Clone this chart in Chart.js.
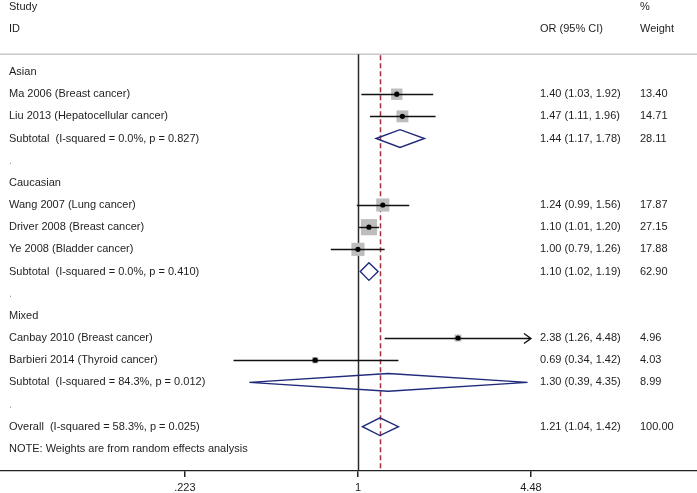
<!DOCTYPE html>
<html>
<head>
<meta charset="utf-8">
<script src="https://cdn.jsdelivr.net/npm/chart.js@4.4.1/dist/chart.umd.min.js"></script>
<style>
  html, body { margin: 0; padding: 0; background: #fff; }
  canvas { display: block; }
</style>
</head>
<body>
<canvas id="forest" width="697" height="493"></canvas>
<script>
const rowLabels = [
  'Asian',
  'Ma 2006 (Breast cancer)',
  'Liu 2013 (Hepatocellular cancer)',
  'Subtotal  (I-squared = 0.0%, p = 0.827)',
  '.',
  'Caucasian',
  'Wang 2007 (Lung cancer)',
  'Driver 2008 (Breast cancer)',
  'Ye 2008 (Bladder cancer)',
  'Subtotal  (I-squared = 0.0%, p = 0.410)',
  '.',
  'Mixed',
  'Canbay 2010 (Breast cancer)',
  'Barbieri 2014 (Thyroid cancer)',
  'Subtotal  (I-squared = 84.3%, p = 0.012)',
  '.',
  'Overall  (I-squared = 58.3%, p = 0.025)',
  'NOTE: Weights are from random effects analysis'
];
const rowTypes = ['group', 'study', 'study', 'subtotal', 'gap',
  'group', 'study', 'study', 'study', 'subtotal', 'gap',
  'group', 'study', 'study', 'subtotal', 'gap',
  'overall', 'note'];
const oddsRatios = [null, 1.40, 1.47, 1.44, null, null, 1.24, 1.10, 1.00, 1.10, null, null, 2.38, 0.69, 1.30, null, 1.21, null];
const ciLower = [null, 1.03, 1.11, 1.17, null, null, 0.99, 1.01, 0.79, 1.02, null, null, 1.26, 0.34, 0.39, null, 1.04, null];
const ciUpper = [null, 1.92, 1.96, 1.78, null, null, 1.56, 1.20, 1.26, 1.19, null, null, 4.48, 1.42, 4.35, null, 1.42, null];
const weights = [null, 13.40, 14.71, 28.11, null, null, 17.87, 27.15, 17.88, 62.90, null, null, 4.96, 4.03, 8.99, null, 100.00, null];

const tickValues = [0.223, 1, 4.48];
const tickLabels = ['.223', '1', '4.48'];
const headerStudy = ['Study', 'ID'];
const headerEffect = 'OR (95% CI)';
const headerWeight = ['%', 'Weight'];

const FONT = '11px "Liberation Sans", Arial, sans-serif';
const TEXT = '#1e1e1e';
const NAVY = '#1f2a7a';

const studyRows = rowTypes.map((t, i) => t === 'study' ? i : -1).filter(i => i >= 0);
const pooledRows = rowTypes.map((t, i) => (t === 'subtotal' || t === 'overall') ? i : -1).filter(i => i >= 0);
const overallRow = rowTypes.indexOf('overall');
const clipHigh = tickValues[tickValues.length - 1];

const forestPlot = {
  id: 'forestPlot',
  beforeDatasetsDraw(chart) {
    const {ctx, scales: {x, y}, chartArea: {bottom}} = chart;
    ctx.save();
    const ruleY = y.getPixelForValue(-0.8);

    // header rule
    ctx.strokeStyle = '#c8c8c8';
    ctx.lineWidth = 1.5;
    ctx.beginPath();
    ctx.moveTo(0, ruleY);
    ctx.lineTo(chart.width, ruleY);
    ctx.stroke();

    // line of no effect
    const x1 = Math.round(x.getPixelForValue(1)) + 0.5;
    ctx.strokeStyle = '#2b2b2b';
    ctx.lineWidth = 1.5;
    ctx.beginPath();
    ctx.moveTo(x1, ruleY);
    ctx.lineTo(x1, bottom);
    ctx.stroke();

    // overall estimate
    const xo = Math.round(x.getPixelForValue(oddsRatios[overallRow])) + 0.5;
    ctx.strokeStyle = '#a3303b';
    ctx.setLineDash([5, 3]);
    ctx.beginPath();
    ctx.moveTo(xo, ruleY + 1);
    ctx.lineTo(xo, bottom);
    ctx.stroke();
    ctx.setLineDash([]);

    // pooled diamonds
    ctx.strokeStyle = NAVY;
    ctx.lineWidth = 1.4;
    pooledRows.forEach(i => {
      const yc = y.getPixelForValue(i);
      const h = Math.abs(y.getPixelForValue(i + 0.4) - yc);
      ctx.beginPath();
      ctx.moveTo(x.getPixelForValue(ciLower[i]), yc);
      ctx.lineTo(x.getPixelForValue(oddsRatios[i]), yc - h);
      ctx.lineTo(x.getPixelForValue(ciUpper[i]), yc);
      ctx.lineTo(x.getPixelForValue(oddsRatios[i]), yc + h);
      ctx.closePath();
      ctx.stroke();
    });
    ctx.restore();
  },
  afterDatasetDraw(chart, args) {
    // datasets draw last-to-first: boxes (index 1) first, then CI lines, then points (index 0)
    if (args.index !== 1) return;
    const {ctx, scales: {x, y}} = chart;
    ctx.save();
    ctx.strokeStyle = '#111';
    ctx.lineWidth = 1.4;
    studyRows.forEach(i => {
      const yc = Math.round(y.getPixelForValue(i)) + 0.5;
      const xl = x.getPixelForValue(ciLower[i]);
      const xh = x.getPixelForValue(ciUpper[i]);
      ctx.beginPath();
      ctx.moveTo(xl, yc);
      ctx.lineTo(xh, yc);
      if (ciUpper[i] >= clipHigh) {
        ctx.moveTo(xh - 7, yc - 5);
        ctx.lineTo(xh, yc);
        ctx.lineTo(xh - 7, yc + 5);
      }
      ctx.stroke();
    });
    ctx.restore();
  },
  afterDraw(chart) {
    const {ctx, scales: {y}} = chart;
    ctx.save();
    ctx.font = FONT;
    ctx.fillStyle = TEXT;
    ctx.textAlign = 'left';
    ctx.textBaseline = 'middle';

    const colStudy = 9, colEffect = 540, colWeight = 640;
    ctx.fillText(headerStudy[0], colStudy, y.getPixelForValue(-2.95));
    ctx.fillText(headerStudy[1], colStudy, y.getPixelForValue(-1.95));
    ctx.fillText(headerEffect, colEffect, y.getPixelForValue(-1.95));
    ctx.fillText(headerWeight[0], colWeight, y.getPixelForValue(-2.95));
    ctx.fillText(headerWeight[1], colWeight, y.getPixelForValue(-1.95));

    rowLabels.forEach((label, i) => {
      const yc = y.getPixelForValue(i);
      ctx.fillStyle = rowTypes[i] === 'gap' ? '#9a9a9a' : TEXT;
      ctx.fillText(label, colStudy, yc);
      ctx.fillStyle = TEXT;
      if (oddsRatios[i] != null) {
        ctx.fillText(oddsRatios[i].toFixed(2) + ' (' + ciLower[i].toFixed(2) + ', ' + ciUpper[i].toFixed(2) + ')', colEffect, yc);
        ctx.fillText(weights[i].toFixed(2), colWeight, yc);
      }
    });
    ctx.restore();
  }
};

new Chart(document.getElementById('forest'), {
  type: 'scatter',
  data: {
    datasets: [
      {
        label: 'OR',
        data: studyRows.map(i => ({x: oddsRatios[i], y: i})),
        pointStyle: 'circle',
        pointRadius: 2.6,
        backgroundColor: '#000',
        borderWidth: 0
      },
      {
        label: 'weight',
        data: studyRows.map(i => ({x: oddsRatios[i], y: i})),
        pointStyle: 'rect',
        pointRadius: studyRows.map(i => 3.1 * Math.sqrt(weights[i]) / (2 * Math.SQRT1_2)),
        backgroundColor: '#bdbdbd',
        borderWidth: 0
      }
    ]
  },
  options: {
    responsive: false,
    animation: false,
    events: [],
    devicePixelRatio: 1,
    layout: {padding: 0, autoPadding: false},
    scales: {
      x: {
        type: 'logarithmic',
        min: 0.0449,
        max: 18.9,
        position: 'bottom',
        afterBuildTicks(scale) {
          scale.ticks = tickValues.map(v => ({value: v}));
        },
        afterFit(scale) {
          scale.height = 22;
          scale.paddingLeft = 0;
          scale.paddingRight = 0;
        },
        grid: {
          drawOnChartArea: false,
          drawTicks: true,
          tickLength: 6,
          color: '#222',
          lineWidth: 1.5
        },
        border: {display: true, color: '#222', width: 1.2},
        ticks: {
          autoSkip: false,
          maxRotation: 0,
          padding: 4,
          color: TEXT,
          font: {family: '"Liberation Sans", Arial, sans-serif', size: 11},
          callback: (value) => tickLabels[tickValues.indexOf(value)]
        }
      },
      y: {
        type: 'linear',
        reverse: true,
        min: -3.25,
        max: 18,
        display: false
      }
    },
    plugins: {
      legend: {display: false},
      tooltip: {enabled: false}
    }
  },
  plugins: [forestPlot]
});
</script>
</body>
</html>
